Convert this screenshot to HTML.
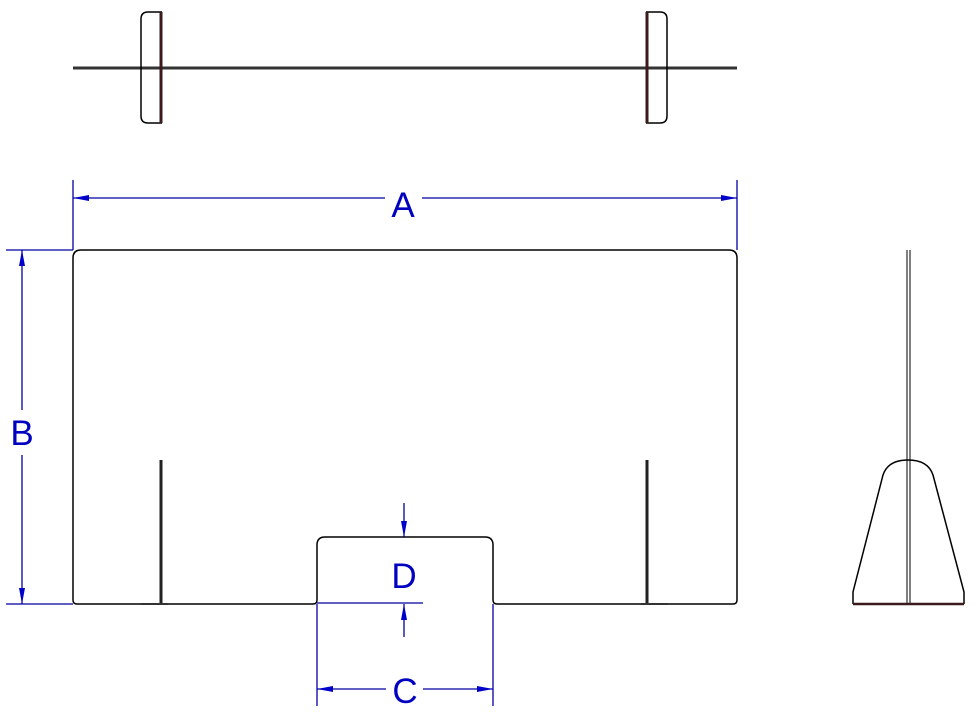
<!DOCTYPE html>
<html><head><style>html,body{margin:0;padding:0;background:#fff;}svg{display:block}</style></head>
<body>
<svg width="976" height="712" viewBox="0 0 976 712" xmlns="http://www.w3.org/2000/svg">
<defs>
<marker id="ar" viewBox="0 0 16 6" refX="16" refY="3" markerWidth="16" markerHeight="6" markerUnits="userSpaceOnUse" orient="auto"><path d="M0,0 L16,3 L0,6 Z" fill="#0000c8"/></marker>
</defs>
<g fill="none" stroke="#000" stroke-width="1.5">
<line x1="73" y1="68" x2="737" y2="68" stroke="#333" stroke-width="3"/>
<path d="M162,12 H148 Q141,12 141,19 V116 Q141,123 148,123 H162"/>
<line x1="161" y1="12" x2="161" y2="123" stroke="#3a1a1a" stroke-width="3"/>
<path d="M646,12 H660 Q667,12 667,19 V116 Q667,123 660,123 H646"/>
<line x1="647" y1="12" x2="647" y2="123" stroke="#3a1a1a" stroke-width="3"/>
<path d="M81,250 H729 Q737,250 737,258 V600 Q737,604 733,604 H497 Q493,604 493,600 V545 Q493,537 485,537 H325 Q317,537 317,545 V600 Q317,604 313,604 H77 Q73,604 73,600 V258 Q73,250 81,250 Z"/>
<line x1="161" y1="460" x2="161" y2="604" stroke="#222" stroke-width="3"/>
<line x1="647" y1="460" x2="647" y2="604" stroke="#222" stroke-width="3"/>
<line x1="141" y1="604" x2="168" y2="604" stroke="#333" stroke-width="2"/>
<line x1="641" y1="604" x2="668" y2="604" stroke="#333" stroke-width="2"/>
<line x1="907" y1="250" x2="907" y2="604" stroke-width="1"/>
<line x1="910" y1="250" x2="910" y2="604" stroke-width="1"/>
<path d="M853,604 V592 L883,475 Q888,460 908,460 Q928,460 933,475 L964,592 V604"/>
<line x1="853" y1="604" x2="964" y2="604" stroke="#3a1a1a" stroke-width="2.5"/>
</g>
<g stroke="#0000a0" stroke-width="1.3" fill="none">
<line x1="73" y1="180" x2="73" y2="250"/>
<line x1="737" y1="180" x2="737" y2="250"/>
<line x1="385" y1="198" x2="73" y2="198" marker-end="url(#ar)"/>
<line x1="422" y1="198" x2="737" y2="198" marker-end="url(#ar)"/>
<line x1="6" y1="250" x2="73" y2="250"/>
<line x1="6" y1="604" x2="73" y2="604"/>
<line x1="22" y1="410" x2="22" y2="250" marker-end="url(#ar)"/>
<line x1="22" y1="455" x2="22" y2="604" marker-end="url(#ar)"/>
<line x1="317" y1="604" x2="317" y2="706"/>
<line x1="493" y1="604" x2="493" y2="706"/>
<line x1="386" y1="689" x2="317" y2="689" marker-end="url(#ar)"/>
<line x1="423" y1="689" x2="493" y2="689" marker-end="url(#ar)"/>
<line x1="317" y1="603" x2="423" y2="603"/>
<line x1="404" y1="503" x2="404" y2="537" marker-end="url(#ar)"/>
<line x1="404" y1="637" x2="404" y2="604" marker-end="url(#ar)"/>
</g>
<g fill="#0000c0" font-family="Liberation Sans, sans-serif" font-size="35" text-anchor="middle">
<text x="403" y="217">A</text>
<text x="22" y="445">B</text>
<text x="405" y="703">C</text>
<text x="404" y="588">D</text>
</g>
</svg>
</body></html>
